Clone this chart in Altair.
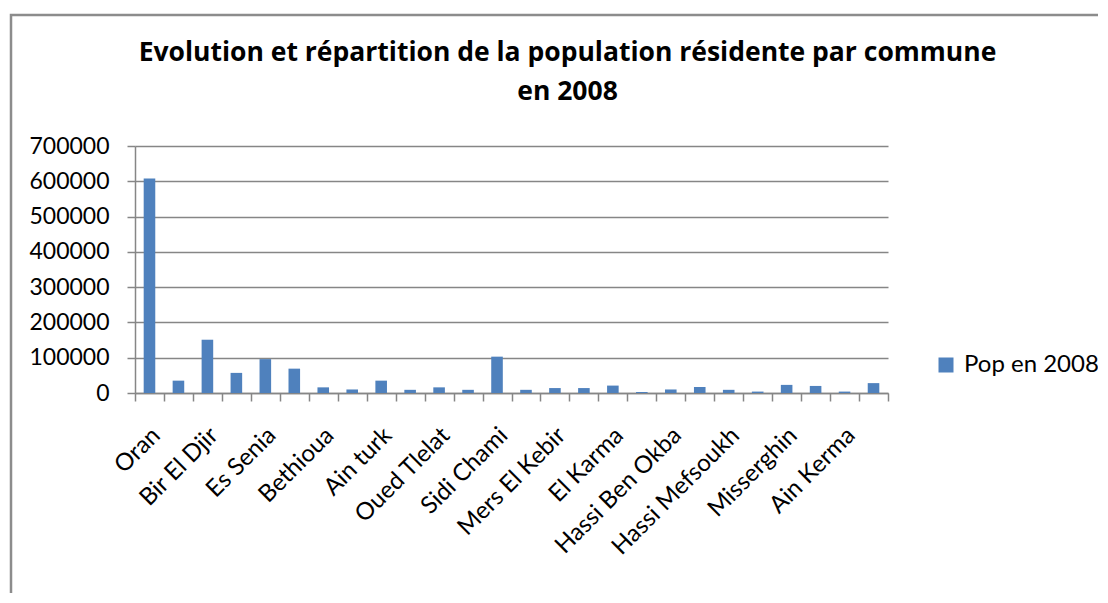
import altair as alt
import pandas as pd
import json

communes = ["Oran", "Gdyel", "Bir El Djir", "Hassi Bounif", "Es Senia", "Arzew",
            "Bethioua", "Marsat El Hadjadj", "Ain turk", "El Ançor", "Oued Tlelat",
            "Tafraoui", "Sidi Chami", "Boufatis", "Mers El Kebir", "Bousfer",
            "El Karma", "El Braya", "Hassi Ben Okba", "Ben Freha", "Hassi Mefsoukh",
            "Sidi Ben Yebka", "Misserghin", "Boutlelis", "Ain Kerma", "Ain Biya"]
pop_2008 = [608000, 35000, 151000, 57000, 96000, 69000, 16000, 10000, 35000, 9000,
            16000, 9000, 103000, 9000, 14000, 14000, 21000, 3000, 10000, 17000,
            9000, 4000, 23000, 20000, 4000, 28000]
y_ticks = [0, 100000, 200000, 300000, 400000, 500000, 600000, 700000]
series_name = "Pop en 2008"
title_lines = ["Evolution et répartition de la population résidente par commune", "en 2008"]

shown = communes[::2]
label_expr = "indexof(" + json.dumps(shown, ensure_ascii=False).replace('"', "'") + ", datum.value) >= 0 ? datum.label : ''"

df = pd.DataFrame({"commune": communes, "pop": pop_2008, "serie": series_name})

GRAY = "#868686"
FONT = "Lato"

bars = alt.Chart(df).mark_bar(width=alt.RelativeBandSize(0.4), color="#4F81BD").encode(
    x=alt.X("commune:N", sort=communes,
            scale=alt.Scale(paddingInner=0, paddingOuter=0),
            axis=alt.Axis(title=None, labelExpr=label_expr, labelAngle=-45,
                          labelAlign="right", labelBaseline="top", labelPadding=22,
                          labelOffset=-2,
                          labelOverlap=False, labelBound=False, labelFlush=False,
                          tickBand="extent", tickSize=8, tickColor=GRAY, tickWidth=1.5,
                          domainColor=GRAY, domainWidth=1.5,
                          labelFont=FONT, labelFontSize=24, labelColor="black")),
    y=alt.Y("pop:Q", scale=alt.Scale(domain=[0, 700000], nice=False),
            axis=alt.Axis(title=None, values=y_ticks, format="d", grid=True,
                          gridColor=GRAY, gridWidth=1.3, tickSize=8, tickColor=GRAY,
                          tickWidth=1.5, domainColor=GRAY, domainWidth=1.5,
                          labelPadding=18, labelFont=FONT, labelFontSize=23,
                          labelColor="black")),
    color=alt.Color("serie:N", scale=alt.Scale(range=["#4F81BD"]),
                    legend=alt.Legend(title=None, orient="none", legendX=799, legendY=207,
                                      padding=0, symbolType="square", symbolSize=225,
                                      symbolStrokeWidth=0, labelFont=FONT,
                                      labelFontSize=24, labelColor="black",
                                      labelOffset=6)),
)

frame = alt.Chart(pd.DataFrame({"a": [0]})).mark_rect(
    fill=None, stroke="#8c8c8c", strokeWidth=2.5
).encode(x=alt.value(-124), x2=alt.value(1000), y=alt.value(-131), y2=alt.value(480))

chart = alt.layer(frame, bars).properties(
    width=753, height=247,
    title=alt.TitleParams(text=title_lines, font="Open Sans", fontSize=26.5, fontWeight="bold",
                          color="black", anchor="middle", dx=56, lineHeight=39,
                          baseline="bottom", offset=-119),
    autosize=alt.AutoSizeParams(type="none"),
    padding={"left": 127, "top": 138, "right": 210, "bottom": 200},
).configure_view(strokeWidth=0)

chart.save("out.html", embed_options={"renderer": "svg", "actions": False})
